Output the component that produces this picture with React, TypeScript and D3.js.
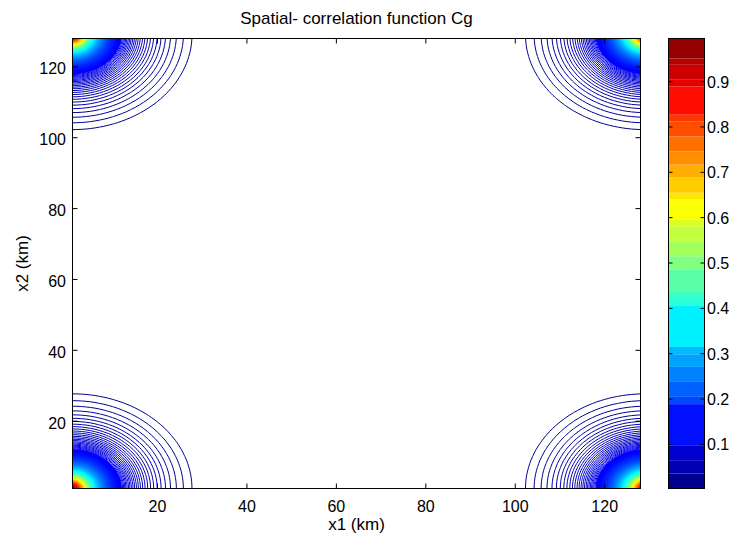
import React, { useMemo } from "react";
import * as d3 from "d3";

// ---- data ----
const GRID_SIZE = 128; // samples along x1 and x2 (1..128 km)
const X_TICKS = [20, 40, 60, 80, 100, 120];
const Y_TICKS = [20, 40, 60, 80, 100, 120];
const CBAR_TICKS = [0.1, 0.2, 0.3, 0.4, 0.5, 0.6, 0.7, 0.8, 0.9];
// colour limits of the colour bar
const CLIM = [0.003, 0.995];
// band edges of the colour bar (values)
const CBAR_EDGES = [
  0.003, 0.036, 0.064, 0.097, 0.189, 0.205, 0.238, 0.271, 0.299, 0.315,
  0.407, 0.425, 0.438, 0.486, 0.515, 0.548, 0.581, 0.596, 0.64, 0.655,
  0.689, 0.717, 0.746, 0.779, 0.812, 0.827, 0.889, 0.904, 0.937, 0.951, 0.995,
];
// periodic spatial correlation model (rounded short core + long tail), lengths in km
const CORE_WEIGHT = 0.64;
const CORE_LENGTH = 2.6;
const CORE_ROUNDING = 1.5;
const TAIL_WEIGHT = 0.36;
const TAIL_LENGTH = 8.5;
// contour levels
const LEVEL_MIN = 0.0156;
const LEVEL_STEP = 0.004;
// above this level the contour lines are so close that they merge into a solid area
const SOLID_FROM = 0.115;

const TITLE = "Spatial- correlation function Cg";
const X_LABEL = "x1 (km)";
const Y_LABEL = "x2 (km)";

// ---- layout ----
const W = 731;
const H = 537;
const PL = 72.5;
const PR = 640.5;
const PT = 38.5;
const PB = 488.5;
const CB_L = 668.5;
const CB_R = 704.5;
const FONT = "'Liberation Sans', Arial, Helvetica, sans-serif";

function jet(t: number): string {
  const c = (v: number) => Math.max(0, Math.min(1, v));
  const r = c(1.5 - Math.abs(4 * t - 3));
  const g = c(1.5 - Math.abs(4 * t - 2));
  const b = c(1.5 - Math.abs(4 * t - 1));
  return d3.rgb(r * 255, g * 255, b * 255).formatHex();
}

function correlation(i: number, j: number): number {
  const di = Math.min(i, GRID_SIZE - i);
  const dj = Math.min(j, GRID_SIZE - j);
  const r = Math.hypot(di, dj);
  const rc = Math.hypot(r, CORE_ROUNDING) - CORE_ROUNDING;
  return CORE_WEIGHT * Math.exp(-rc / CORE_LENGTH) + TAIL_WEIGHT * Math.exp(-r / TAIL_LENGTH);
}

export default function App() {
  const x = d3.scaleLinear().domain([1, GRID_SIZE]).range([PL, PR]);
  const y = d3.scaleLinear().domain([1, GRID_SIZE]).range([PB, PT]);
  const cb = d3.scaleLinear().domain(CLIM).range([PB, PT]);
  const colorOf = (v: number) => jet((v - CLIM[0]) / (CLIM[1] - CLIM[0]));

  const paths = useMemo(() => {
    const values = new Array(GRID_SIZE * GRID_SIZE);
    for (let j = 0; j < GRID_SIZE; j++)
      for (let i = 0; i < GRID_SIZE; i++) values[j * GRID_SIZE + i] = correlation(i, j);
    const levels = d3.range(LEVEL_MIN, 1, LEVEL_STEP);
    const cs = d3.contours().size([GRID_SIZE, GRID_SIZE]).thresholds(levels)(values);
    return cs.map((c) => {
      let d = "";
      for (const poly of c.coordinates)
        for (const ring of poly) {
          d +=
            "M" +
            ring
              .map((p) => `${x(p[0] + 0.5).toFixed(2)},${y(p[1] + 0.5).toFixed(2)}`)
              .join("L") +
            "Z";
        }
      return { d, color: colorOf(c.value), solid: c.value >= SOLID_FROM };
    });
  }, []);

  const bands = d3.pairs(CBAR_EDGES);
  const tickLen = 5;

  return (
    <svg
      width={W}
      height={H}
      style={{ position: "absolute", left: 0, top: 0, background: "#fff" }}
      fontFamily={FONT}
    >
      <rect x={0} y={0} width={W} height={H} fill="#fff" />
      <defs>
        <clipPath id="plotclip">
          <rect x={PL} y={PT} width={PR - PL} height={PB - PT} />
        </clipPath>
      </defs>
      <g clipPath="url(#plotclip)">
        {paths.map((p, k) => (
          <path
            key={k}
            d={p.d}
            fill={p.solid ? p.color : "none"}
            stroke={p.color}
            strokeWidth={1}
          />
        ))}
      </g>
      {/* axes box */}
      <rect x={PL} y={PT} width={PR - PL} height={PB - PT} fill="none" stroke="#000" strokeWidth={1} />
      {X_TICKS.map((t) => (
        <g key={"x" + t}>
          <line x1={x(t)} x2={x(t)} y1={PB} y2={PB - tickLen} stroke="#000" />
          <line x1={x(t)} x2={x(t)} y1={PT} y2={PT + tickLen} stroke="#000" />
          <text x={x(t)} y={PB + 23} textAnchor="middle" fontSize={16} fill="#000">
            {t}
          </text>
        </g>
      ))}
      {Y_TICKS.map((t) => (
        <g key={"y" + t}>
          <line x1={PL} x2={PL + tickLen} y1={y(t)} y2={y(t)} stroke="#000" />
          <line x1={PR} x2={PR - tickLen} y1={y(t)} y2={y(t)} stroke="#000" />
          <text x={PL - 6.5} y={y(t) + 7.5} textAnchor="end" fontSize={16} fill="#000">
            {t}
          </text>
        </g>
      ))}
      <text x={(PL + PR) / 2} y={24} textAnchor="middle" fontSize={17} fill="#000">
        {TITLE}
      </text>
      <text x={(PL + PR) / 2} y={530} textAnchor="middle" fontSize={17} fill="#000">
        {X_LABEL}
      </text>
      <text
        transform={`translate(28,${(PT + PB) / 2}) rotate(-90)`}
        textAnchor="middle"
        fontSize={17}
        fill="#000"
      >
        {Y_LABEL}
      </text>
      {/* colour bar */}
      {bands.map(([a, b], k) => (
        <rect
          key={"b" + k}
          x={CB_L}
          width={CB_R - CB_L}
          y={cb(b)}
          height={cb(a) - cb(b)}
          fill={colorOf((a + b) / 2)}
        />
      ))}
      <rect x={CB_L} y={PT} width={CB_R - CB_L} height={PB - PT} fill="none" stroke="#000" />
      {CBAR_TICKS.map((t) => (
        <g key={"c" + t}>
          <line x1={CB_L} x2={CB_L + 4} y1={cb(t)} y2={cb(t)} stroke="#000" />
          <line x1={CB_R} x2={CB_R - 4} y1={cb(t)} y2={cb(t)} stroke="#000" />
          <text x={CB_R + 2.5} y={cb(t) + 6} fontSize={16} fill="#000">
            {t.toFixed(1)}
          </text>
        </g>
      ))}
    </svg>
  );
}
